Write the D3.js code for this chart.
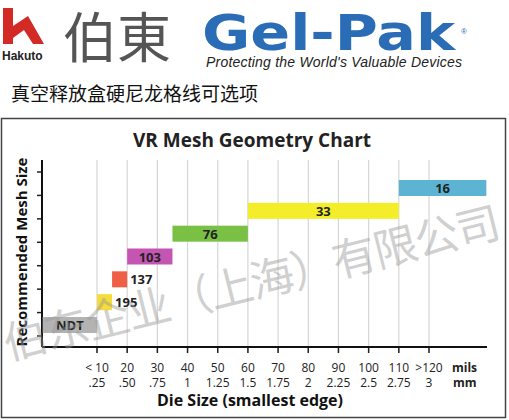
<!DOCTYPE html>
<html><head><meta charset="utf-8">
<script src="https://cdn.jsdelivr.net/npm/d3@7"></script>
<style>body{margin:0;background:#fff}svg{display:block}</style>
</head><body>
<svg id="c" width="509" height="420"></svg>
<script>
// mesh bars: label, start/end in mils, step level
var meshLabels = ["NDT", "195", "137", "103", "76", "33", "16"];
var meshStart = [-8, 10, 15, 20, 35, 60, 110];
var meshEnd = [10, 15, 20, 35, 60, 110, 139];
var meshColors = ["#b3b3b3", "#f3dc3c", "#ef5f45", "#c455b3", "#79c045", "#f4ee2a", "#5cb4d2"];
var milsTicks = [10, 20, 30, 40, 50, 60, 70, 80, 90, 100, 110, 120];
var milsLabels = ["< 10", "20", "30", "40", "50", "60", "70", "80", "90", "100", "110", ">120"];
var mmLabels = [".25", ".50", ".75", "1", "1.25", "1.5", "1.75", "2", "2.25", "2.5", "2.75", "3"];
var yTicks = [0, 1, 2, 3, 4, 5, 6, 7];

var svg = d3.select("#c"),
    font = "'Open Sans', 'DejaVu Sans', sans-serif";

// header
var logo = svg.append("g");
logo.append("path").attr("d", "M3,8 L13,8 L13,26 L28,16 L44,44 L33,44 L24,30 L13,38 L13,44 L3,44 Z").attr("fill", "#d42a25");
logo.append("text").attr("x", 2).attr("y", 60).text("Hakuto").style("font", "bold 12px Arial, 'Liberation Sans', sans-serif").attr("fill", "#222");
svg.append("text").attr("x", 63).attr("y", 58).text("伯東")
    .style("font", "54px 'Noto Sans CJK SC'").attr("fill", "#555");
svg.append("text").attr("x", 202).attr("y", 50).text("Gel-Pak")
    .style("font", "900 50px 'DejaVu Sans', sans-serif").attr("fill", "#2b6cb7")
    .attr("textLength", 253).attr("lengthAdjust", "spacingAndGlyphs");
svg.append("text").attr("x", 461).attr("y", 34).text("®").style("font", "8px sans-serif").attr("fill", "#2b6cb7");
svg.append("text").attr("x", 206).attr("y", 67).text("Protecting the World's Valuable Devices")
    .style("font", "italic 14px 'Liberation Sans', Arial, sans-serif").attr("fill", "#222")
    .attr("textLength", 256);
svg.append("text").attr("x", 11).attr("y", 101).text("真空释放盒硬尼龙格线可选项")
    .style("font", "19px 'Noto Sans CJK SC'").attr("fill", "#111");
svg.append("rect").attr("x", 1.5).attr("y", 118.5).attr("width", 504).attr("height", 299)
    .attr("fill", "none").attr("stroke", "#444").attr("stroke-width", 1.5);

// chart
var x = d3.scaleLinear().domain([10, 120]).range([97, 429]);
var y = d3.scaleLinear().domain([0, 6]).range([325, 188]);
var yTick = d3.scaleLinear().domain([0, 7]).range([336, 172]);
var x0 = 42, yBase = 347, xEnd = 487, yTop = 160;

svg.append("text").attr("x", 252).attr("y", 147).attr("text-anchor", "middle").text("VR Mesh Geometry Chart")
    .style("font", "bold 19px " + font).attr("fill", "#222");

svg.append("g").selectAll("line").data(milsTicks).join("line")
    .attr("x1", d => x(d)).attr("x2", d => x(d)).attr("y1", yTop).attr("y2", yBase + 6)
    .attr("stroke", "#d6d6d6").attr("stroke-width", 1.2);
svg.append("g").selectAll("line").data(milsTicks).join("line")
    .attr("x1", d => x(d)).attr("x2", d => x(d)).attr("y1", yBase).attr("y2", yBase + 6)
    .attr("stroke", "#222").attr("stroke-width", 1.5);
svg.append("g").selectAll("line").data(yTicks).join("line")
    .attr("x1", x0 - 5).attr("x2", x0).attr("y1", d => yTick(d)).attr("y2", d => yTick(d))
    .attr("stroke", "#222").attr("stroke-width", 1.5);
svg.append("line").attr("x1", x0).attr("x2", x0).attr("y1", yTop).attr("y2", yBase).attr("stroke", "#111").attr("stroke-width", 2);
svg.append("line").attr("x1", x0).attr("x2", xEnd).attr("y1", yBase).attr("y2", yBase).attr("stroke", "#111").attr("stroke-width", 2);

var bars = svg.append("g").selectAll("g").data(meshLabels).join("g");
bars.append("rect")
    .attr("x", (d, i) => x(meshStart[i])).attr("width", (d, i) => x(meshEnd[i]) - x(meshStart[i]))
    .attr("y", (d, i) => y(i) - 8).attr("height", 16).attr("fill", (d, i) => meshColors[i]);
bars.append("text")
    .attr("x", (d, i) => (i === 1 || i === 2) ? x(meshEnd[i]) + 3 : (x(meshStart[i]) + x(meshEnd[i])) / 2)
    .attr("y", (d, i) => y(i) + 5)
    .attr("text-anchor", (d, i) => (i === 1 || i === 2) ? "start" : "middle")
    .text(d => d).style("font", "bold 13px " + font).attr("fill", "#222");

svg.append("g").selectAll("text").data(milsLabels).join("text")
    .attr("x", (d, i) => x(milsTicks[i])).attr("y", 372).attr("text-anchor", "middle").text(d => d)
    .style("font", "12px " + font).attr("fill", "#222");
svg.append("g").selectAll("text").data(mmLabels).join("text")
    .attr("x", (d, i) => x(milsTicks[i])).attr("y", 387).attr("text-anchor", "middle").text(d => d)
    .style("font", "12px " + font).attr("fill", "#222");
svg.append("text").attr("x", 452).attr("y", 372).text("mils").style("font", "bold 12px " + font).attr("fill", "#222");
svg.append("text").attr("x", 453).attr("y", 387).text("mm").style("font", "bold 12px " + font).attr("fill", "#222");
svg.append("text").attr("x", 250).attr("y", 406).attr("text-anchor", "middle").text("Die Size (smallest edge)")
    .style("font", "bold 16px " + font).attr("fill", "#111");
svg.append("text").attr("transform", "translate(27,252) rotate(-90)").attr("text-anchor", "middle")
    .text("Recommended Mesh Size").style("font", "bold 15px " + font).attr("fill", "#111");

// watermark
svg.append("text").attr("transform", "translate(8,360) rotate(-14)").text("伯东企业（上海）有限公司")
    .style("font", "44px 'Noto Sans CJK SC'").attr("fill", "#999").attr("opacity", 0.45)
    .attr("textLength", 510);
</script>
</body></html>
